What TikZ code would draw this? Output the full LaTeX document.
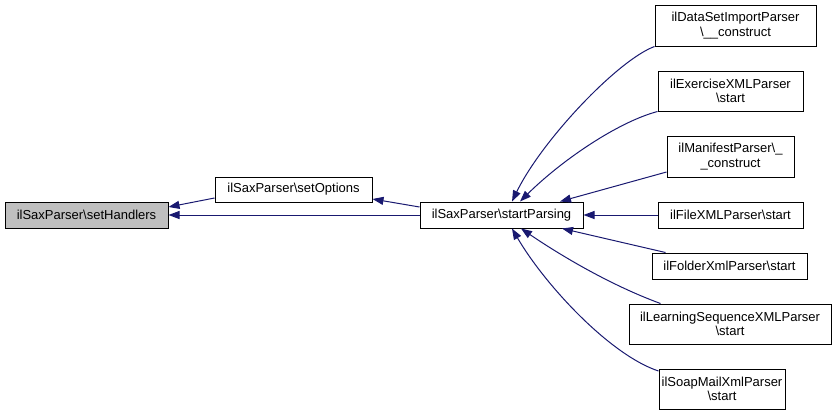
\documentclass[tikz,border=0pt]{standalone}
\usepackage{fontspec}
\setmainfont{Liberation Sans}
\usetikzlibrary{arrows.meta}
\definecolor{edgeblue}{HTML}{191970}
\definecolor{hlgray}{HTML}{BFBFBF}
\tikzset{
  fn/.style={draw=black, line width=1pt, fill=white, inner sep=0pt, align=center,
    font=\fontsize{13}{14.5}\selectfont},
  arr/.style={draw=edgeblue, line width=1pt, -{Triangle[length=11pt,width=8pt]}, fill=none},
}
\begin{document}
\begin{tikzpicture}[x=1pt,y=-1pt]
\useasboundingbox (0,0) rectangle (836,416);
\node[fn, fill=hlgray, minimum width=163pt, minimum height=26pt] (sh) at (86.5,215) {ilSaxParser\textbackslash setHandlers};
\node[fn, minimum width=157pt, minimum height=25pt] (so) at (293.5,189.5) {ilSaxParser\textbackslash setOptions};
\node[fn, minimum width=163pt, minimum height=26pt] (sp) at (501.5,215) {ilSaxParser\textbackslash startParsing};
\node[fn, minimum width=161pt, minimum height=41pt] (dsi) at (735.5,25.5) {ilDataSetImportParser\\\textbackslash \_\_construct};
\node[fn, minimum width=145pt, minimum height=40pt] (ex) at (730.5,91) {ilExerciseXMLParser\\\textbackslash start};
\node[fn, minimum width=127pt, minimum height=41pt] (man) at (730.5,156.5) {ilManifestParser\textbackslash \_\\\_construct};
\node[fn, minimum width=145pt, minimum height=26pt] (file) at (730.5,215) {ilFileXMLParser\textbackslash start};
\node[fn, minimum width=155pt, minimum height=26pt] (fold) at (729.5,266) {ilFolderXmlParser\textbackslash start};
\node[fn, minimum width=202pt, minimum height=40pt] (learn) at (730,324) {ilLearningSequenceXMLParser\\\textbackslash start};
\node[fn, minimum width=126pt, minimum height=40pt] (soap) at (722,389) {ilSoapMailXmlParser\\\textbackslash start};

% left edges
\draw[arr] (so.west |- 0,198) -- (sh.east |- 0,207);
\draw[arr] (sp.west |- 0,207) -- (so.east |- 0,199);
\draw[arr] (sp.west) -- (sh.east);

% right edges into startParsing
\draw[arr] (dsi.south west) .. controls (618,60) and (542,140) .. (sp.north -| 512,0);
\draw[arr] (ex.south west) .. controls (618,122) and (562,160) .. (sp.north -| 520,0);
\draw[arr] (man.west |- 0,172) -- (sp.north -| 560,0);
\draw[arr] (file.west) -- (sp.east);
\coordinate (fstart) at ([xshift=14pt]fold.north west);
\draw[arr] (fstart) -- (sp.south -| 562,0);
\coordinate (lstart) at ([xshift=32pt]learn.north west);
\draw[arr] (lstart) .. controls (610,285) and (560,255) .. (sp.south -| 521,0);
\draw[arr] (soap.west |- 0,371) .. controls (610,355) and (545,285) .. (sp.south -| 512,0);
\end{tikzpicture}
\end{document}
